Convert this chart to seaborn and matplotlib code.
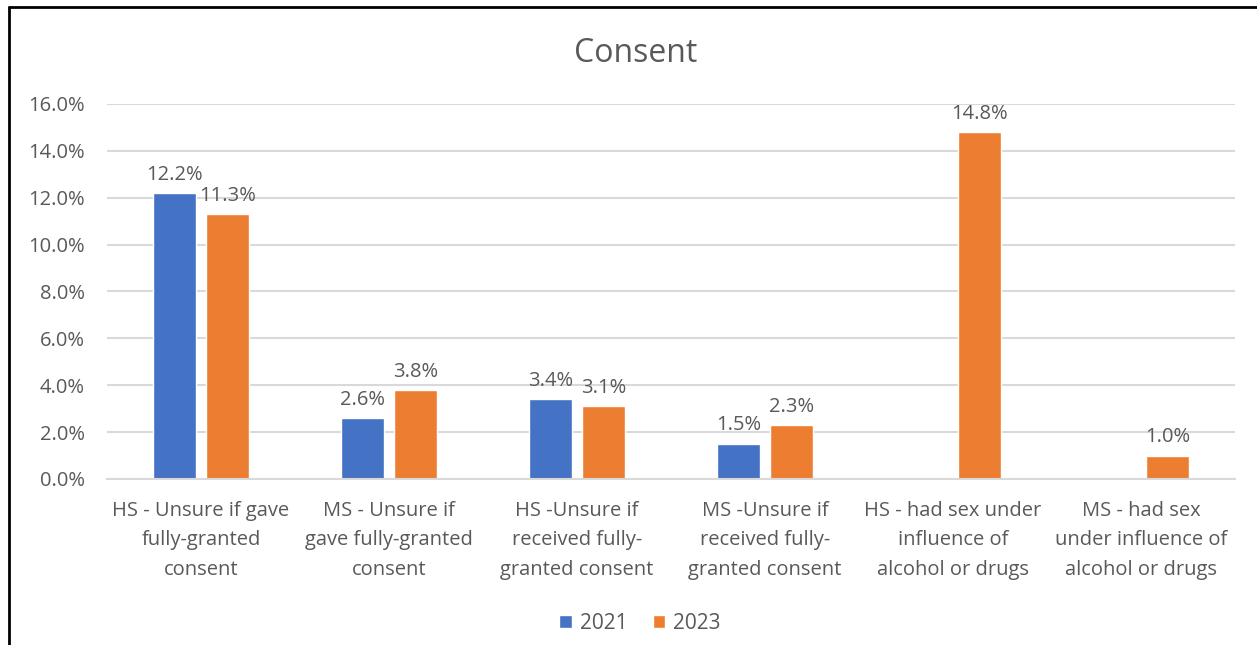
import numpy as np
import pandas as pd
import matplotlib.pyplot as plt
import seaborn as sns
from matplotlib.lines import Line2D

# chart data
categories = [
    "HS - Unsure if gave\nfully-granted\nconsent",
    "MS - Unsure if\ngave fully-granted\nconsent",
    "HS -Unsure if\nreceived fully-\ngranted consent",
    "MS -Unsure if\nreceived fully-\ngranted consent",
    "HS - had sex under\ninfluence of\nalcohol or drugs",
    "MS - had sex\nunder influence of\nalcohol or drugs",
]
years = ["2021", "2023"]
vals_2021 = [12.2, 2.6, 3.4, 1.5, np.nan, np.nan]
vals_2023 = [11.3, 3.8, 3.1, 2.3, 14.8, 1.0]
yticks = [0, 2, 4, 6, 8, 10, 12, 14, 16]

df = pd.DataFrame({
    "category": categories * 2,
    "year": [years[0]] * 6 + [years[1]] * 6,
    "value": vals_2021 + vals_2023,
}).dropna()

sns.set_theme(style="white")
plt.rcParams["font.family"] = ["Open Sans", "DejaVu Sans"]
txt = "#595959"

fig = plt.figure(figsize=(12.57, 6.45), dpi=100)
ax = fig.add_axes([0.0851, 0.2574, 0.8974, 0.5814])

sns.barplot(data=df, x="category", y="value", hue="year", order=categories,
            hue_order=years, palette=["#4472C4", "#ED7D31"], width=0.563,
            gap=0.19, saturation=1, ax=ax, legend=True)

for c in ax.containers:
    ax.bar_label(c, labels=[f"{v:.1f}%" for v in c.datavalues], padding=6,
                 fontsize=14.5, color=txt)

ax.set_ylim(0, 16)
ax.set_yticks(yticks)
ax.set_yticklabels([f"{t:.1f}%" for t in yticks], fontsize=14.5, color=txt)
ax.tick_params(axis="y", length=0, pad=16)
ax.tick_params(axis="x", length=0, pad=16)
ax.set_xticks(range(len(categories)))
ax.set_xticklabels(categories, fontsize=14.5, color=txt, linespacing=1.62)
ax.set_xlabel("")
ax.set_ylabel("")
ax.grid(axis="y", color="#D9D9D9", linewidth=1.5)
ax.set_axisbelow(True)
for s in ["top", "right", "left"]:
    ax.spines[s].set_visible(False)
ax.spines["bottom"].set_color("#D9D9D9")
ax.spines["bottom"].set_linewidth(1.5)
ax.set_xlim(-0.5, 5.5)

ax.set_title("Consent", fontsize=23, color=txt, pad=30, x=0.469)

leg = ax.legend(loc="center", bbox_to_anchor=(0.4725, -0.385), ncol=2, frameon=False,
                fontsize=15, handlelength=0.6, handleheight=0.6, handletextpad=0.4,
                columnspacing=1.2)
for t in leg.get_texts():
    t.set_color(txt)

# partial border from the screenshot
fig.add_artist(Line2D([9 / 1257, 1], [1 - 7 / 645, 1 - 7 / 645], color="black", lw=2))
fig.add_artist(Line2D([9 / 1257, 9 / 1257], [0, 1 - 7 / 645], color="black", lw=2))

fig.savefig("out.png", dpi=100)
